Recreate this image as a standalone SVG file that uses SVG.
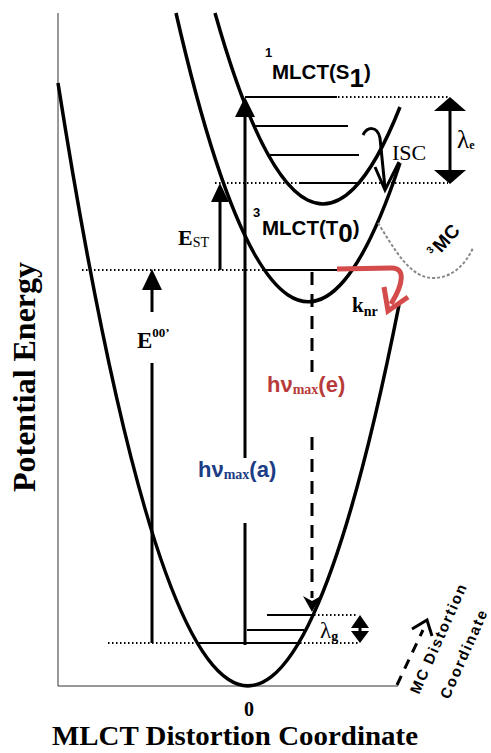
<svg xmlns="http://www.w3.org/2000/svg" width="491" height="753" viewBox="0 0 491 753">
<style>
.curve{fill:none;stroke:#000;stroke-width:3.5}
.lvl{stroke:#000;stroke-width:2}
.dot{stroke:#000;stroke-width:2;stroke-dasharray:1.5 2.5}
.arr{stroke:#000;stroke-width:3;fill:none}
.head{fill:#000;stroke:none}
.tb{font-family:"Liberation Serif","Times New Roman",serif;font-weight:bold}
.tr{font-family:"Liberation Serif","Times New Roman",serif}
.sb{font-family:"Liberation Sans",Arial,sans-serif;font-weight:bold}
</style>
<rect width="491" height="753" fill="#fff"/>
<g id="axes">
<line x1="58" y1="13" x2="58" y2="686" stroke="#333" stroke-width="1"/>
<line x1="58" y1="686" x2="398" y2="686" stroke="#333" stroke-width="1"/>
<text class="tb" font-size="31" transform="translate(35,377) rotate(-90)" text-anchor="middle" textLength="230" lengthAdjust="spacingAndGlyphs">Potential Energy</text>
<text class="tb" font-size="20" x="249" y="716" text-anchor="middle">0</text>
<text class="tb" font-size="27" x="235" y="745" text-anchor="middle" textLength="366" lengthAdjust="spacingAndGlyphs">MLCT Distortion Coordinate</text>
</g>
<g id="ground-state">
<path class="curve" d="M58,83 Q228.5,1165 399,305"/>
<line class="dot" x1="108" y1="643" x2="358" y2="643"/>
<line class="lvl" x1="197" y1="643" x2="299" y2="643"/>
<line class="lvl" x1="247" y1="630" x2="304" y2="630"/>
<line class="lvl" x1="267" y1="615" x2="312" y2="615"/>
<line class="dot" x1="290" y1="615" x2="358" y2="615"/>
</g>
<g id="singlet-MLCT">
<path class="curve" d="M215,13 Q307.5,340 400,107"/>
<line class="dot" x1="290" y1="97" x2="448" y2="97"/>
<line class="lvl" x1="245" y1="97" x2="337" y2="97"/>
<line class="lvl" x1="253" y1="126" x2="348" y2="126"/>
<line class="lvl" x1="270" y1="155" x2="359" y2="155"/>
<line class="dot" x1="215" y1="183" x2="448" y2="183"/>
<line class="lvl" x1="300" y1="183" x2="358" y2="183"/>
<text class="sb" font-size="13" x="265" y="57">1</text>
<text class="sb" font-size="20.5" x="272" y="79">MLCT(S<tspan font-size="26" y="87">1</tspan><tspan y="79">)</tspan></text>
</g>
<g id="triplet-MLCT">
<path class="curve" d="M176,13 Q288,502 400,163"/>
<line class="dot" x1="82" y1="270" x2="267" y2="270"/>
<line class="lvl" x1="265" y1="270" x2="345" y2="270"/>
<text class="sb" font-size="13" x="253" y="217">3</text>
<text class="sb" font-size="20.5" x="262" y="235">MLCT(T<tspan font-size="26" y="242">0</tspan><tspan y="235">)</tspan></text>
</g>
<g id="MC-state">
<path d="M378,223 C395,250 410,278 433,278 C452,278 465,265 473,248" fill="none" stroke="#888" stroke-width="2" stroke-dasharray="3 2"/>
<text class="sb" transform="translate(436,259) rotate(-48)"><tspan font-size="10" dy="-7">3</tspan><tspan font-size="19" dx="2" dy="7">MC</tspan></text>
</g>
<g id="connectors">
<line class="arr" x1="245" y1="645" x2="245" y2="523"/>
<line class="arr" x1="245" y1="458" x2="245" y2="115"/>
<polygon class="head" points="245,97 235,117 255,117"/>
<line class="arr" x1="152" y1="643" x2="152" y2="363"/>
<line class="arr" x1="152" y1="312" x2="152" y2="288"/>
<polygon class="head" points="152,269 142,290 162,290"/>
<line class="arr" x1="220" y1="270" x2="220" y2="200"/>
<polygon class="head" points="220,183 211,202 229,202"/>
<line x1="312" y1="272" x2="312" y2="372" stroke="#000" stroke-width="3" stroke-dasharray="13 9"/>
<line x1="312" y1="437" x2="312" y2="598" stroke="#000" stroke-width="3" stroke-dasharray="13 9"/>
<polygon class="head" points="312,612 303,596 312,601 321,596"/>
<line class="arr" x1="450" y1="110" x2="450" y2="171" stroke-width="3.5"/>
<polygon class="head" points="450,97 434,111 466,111"/>
<polygon class="head" points="450,184 434,170 466,170"/>
<line class="arr" x1="360" y1="627" x2="360" y2="632" stroke-width="2"/>
<polygon class="head" points="360,615 351,628 369,628"/>
<polygon class="head" points="360,643 351,631 369,631"/>
<path class="arr" stroke-width="3.5" d="M363,135 C367,127 377,125 380,138 L385,188"/>
<polyline class="arr" stroke-width="3.5" points="375,167 385,190 399,162"/>
<path d="M337,269 L392,268 C405,268 404,283 391,304" fill="none" stroke="#d44b4b" stroke-width="5"/>
<polyline points="384,287 388,311 408,297" fill="none" stroke="#d44b4b" stroke-width="5"/>
<line x1="397" y1="685" x2="423" y2="630" stroke="#000" stroke-width="3" stroke-dasharray="10 8"/>
<polyline class="arr" points="412,629 427,620 432,636"/>
</g>
<g id="labels">
<text class="tb" font-size="22" x="178" y="245">E<tspan font-size="14" font-weight="normal" y="247">ST</tspan></text>
<text class="tb" font-size="23" x="137" y="348">E<tspan font-size="13" y="337">00’</tspan></text>
<text class="tb" font-size="21" x="352" y="312">k<tspan font-size="14" y="316">nr</tspan></text>
<text class="tr" font-size="22" x="392" y="160">ISC</text>
<text class="tr" font-size="25" x="457" y="148">λ<tspan font-size="12" font-weight="bold" y="149">e</tspan></text>
<text class="tr" font-size="23" x="320" y="638">λ<tspan font-size="14" font-weight="bold" y="641">g</tspan></text>
<text fill="#1c3c85" x="198" y="477"><tspan class="sb" font-size="22">hν</tspan><tspan class="tb" font-size="14" y="479">max</tspan><tspan class="sb" font-size="22" y="477">(a)</tspan></text>
<text fill="#b83b3b" x="267" y="392"><tspan class="sb" font-size="22">hν</tspan><tspan class="tb" font-size="14" y="394">max</tspan><tspan class="sb" font-size="22" y="392">(e)</tspan></text>
<text class="sb" font-size="15" transform="translate(419,695) rotate(-66)" textLength="118" lengthAdjust="spacing">MC Distortion</text>
<text class="sb" font-size="15" transform="translate(449,700) rotate(-66)" textLength="95" lengthAdjust="spacing">Coordinate</text>
</g>
</svg>
